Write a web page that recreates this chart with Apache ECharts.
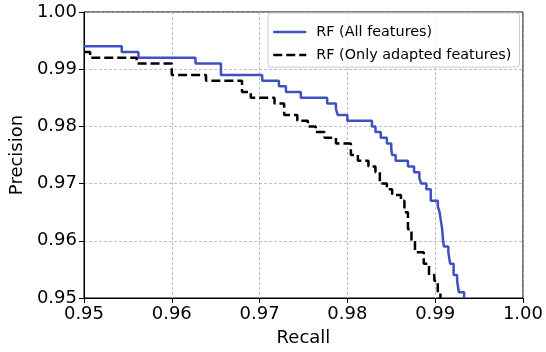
<!DOCTYPE html>
<html>
<head>
<meta charset="utf-8">
<script src="https://cdn.jsdelivr.net/npm/echarts@6/dist/echarts.min.js"></script>
<style>
html, body { margin: 0; padding: 0; background: #fff; }
#chart { width: 546px; height: 352px; }
</style>
</head>
<body>
<div id="chart"></div>
<script>
// RF (All features): step starts (recall) and precision level
var allRecall = [0.95, 0.9543, 0.9562, 0.9627, 0.9656, 0.9703, 0.9722, 0.9730, 0.9747, 0.9777,
  0.9787, 0.9789, 0.9800, 0.9828, 0.9832, 0.9838, 0.9845, 0.9850, 0.9851, 0.9855,
  0.9869, 0.9876, 0.9882, 0.9884, 0.9890, 0.9895, 0.9903, 0.9905, 0.9906, 0.9907,
  0.9908, 0.9909, 0.9910, 0.9915, 0.9917, 0.9921, 0.9925, 0.9927, 0.9933];
var allPrecision = [0.994, 0.993, 0.992, 0.991, 0.989, 0.988, 0.987, 0.986, 0.985, 0.984,
  0.983, 0.982, 0.981, 0.980, 0.979, 0.978, 0.977, 0.976, 0.975, 0.974,
  0.973, 0.972, 0.971, 0.970, 0.969, 0.967, 0.966, 0.965, 0.964, 0.963,
  0.962, 0.960, 0.959, 0.958, 0.956, 0.954, 0.953, 0.951, 0.950];

// RF (Only adapted features)
var adaptedRecall = [0.95, 0.9507, 0.9560, 0.9600, 0.9639, 0.9680, 0.9690, 0.9717, 0.9728, 0.9743,
  0.9755, 0.9764, 0.9774, 0.9787, 0.9804, 0.9812, 0.9824, 0.9832, 0.9837, 0.9845,
  0.9851, 0.9861, 0.9865, 0.9869, 0.9873, 0.9877, 0.9887, 0.9893, 0.9899, 0.9903, 0.9906];
var adaptedPrecision = [0.993, 0.992, 0.991, 0.989, 0.988, 0.986, 0.985, 0.984, 0.982, 0.981,
  0.980, 0.979, 0.978, 0.977, 0.975, 0.974, 0.973, 0.972, 0.970, 0.969,
  0.968, 0.967, 0.965, 0.962, 0.960, 0.958, 0.956, 0.954, 0.953, 0.951, 0.950];

var seriesNames = ["RF (All features)", "RF (Only adapted features)"];

function pairs(xs, ys) {
  return xs.map(function (x, i) { return [x, ys[i]]; });
}

var font = "DejaVu Sans";
var axisCommon = {
  type: "value",
  min: 0.95,
  max: 1.0,
  interval: 0.01,
  axisLine: { show: true, lineStyle: { color: "#000", width: 1 } },
  axisTick: { show: true, length: 5, lineStyle: { color: "#000", width: 1 } },
  axisLabel: {
    color: "#000",
    fontFamily: font,
    fontSize: 18,
    margin: 7,
    formatter: function (v) { return v.toFixed(2); }
  },
  splitLine: { show: true, lineStyle: { color: "#b0b0b0", type: [3, 2], width: 0.8 } },
  nameLocation: "middle",
  nameTextStyle: { color: "#000", fontFamily: font, fontSize: 18 }
};

var option = {
  animation: false,
  backgroundColor: "#fff",
  grid: {
    left: 83, right: 20, top: 12, bottom: 54,
    show: true, borderColor: "#000", borderWidth: 1
  },
  legend: {
    data: seriesNames,
    orient: "vertical",
    left: 268,
    top: 13,
    padding: [12, 8, 5, 4],
    itemWidth: 33,
    itemHeight: 14,
    itemGap: 9,
    itemStyle: { opacity: 0 },
    lineStyle: { width: 2.5 },
    backgroundColor: "rgba(255,255,255,0.8)",
    borderColor: "#cccccc",
    borderWidth: 1,
    borderRadius: 3,
    textStyle: { color: "#000", fontFamily: font, fontSize: 14.4, padding: [0, 0, 0, 5] }
  },
  xAxis: Object.assign({}, axisCommon, { name: "Recall", nameGap: 31 }),
  yAxis: Object.assign({}, axisCommon, { name: "Precision", nameGap: 53 }),
  series: [
    {
      name: seriesNames[0],
      type: "line",
      step: "end",
      symbol: "none",
      data: pairs(allRecall, allPrecision),
      lineStyle: { color: "#4050c0", width: 2.5 },
      itemStyle: { color: "#4050c0" }
    },
    {
      name: seriesNames[1],
      type: "line",
      step: "end",
      symbol: "none",
      data: pairs(adaptedRecall, adaptedPrecision),
      lineStyle: { color: "#000", width: 2.5, type: [9, 4] },
      itemStyle: { color: "#000" }
    }
  ]
};

var chart = echarts.init(document.getElementById("chart"), null, { renderer: "canvas" });
chart.setOption(option);
</script>
</body>
</html>
